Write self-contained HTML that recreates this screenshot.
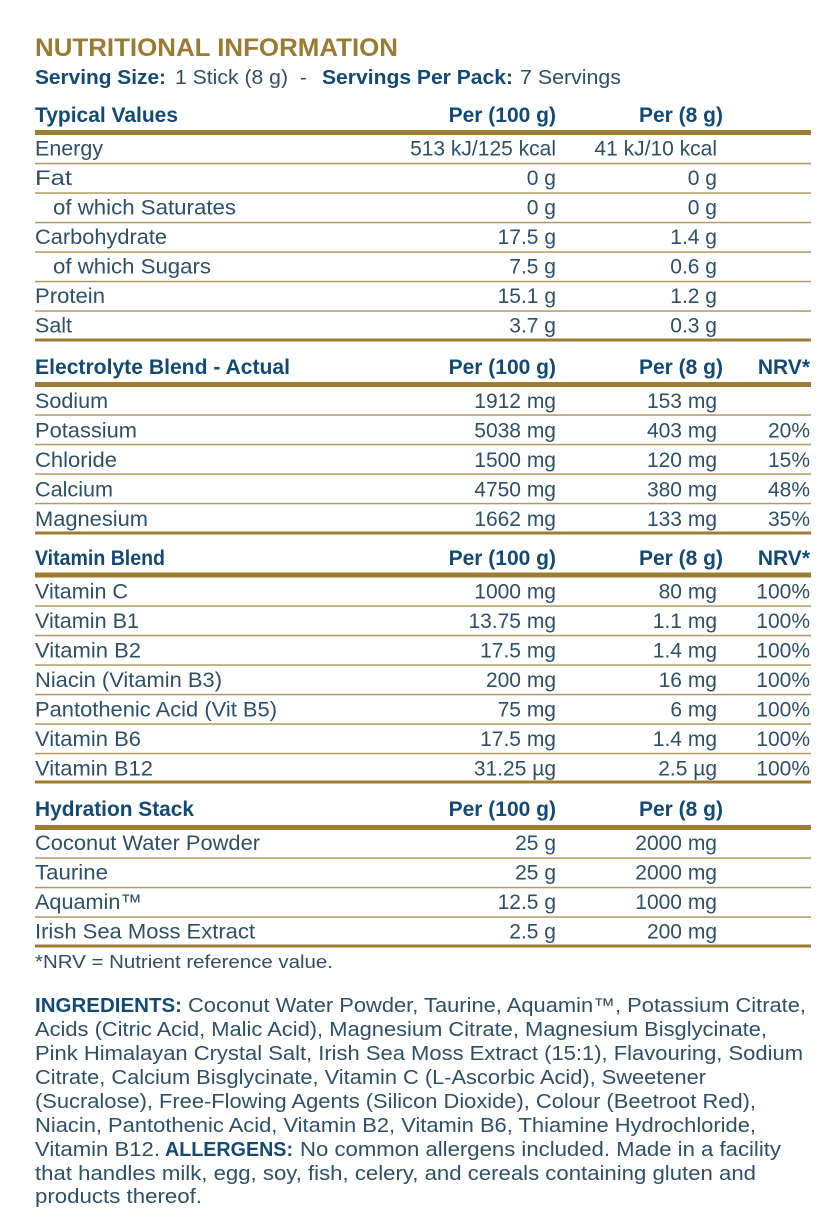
<!DOCTYPE html>
<html><head><meta charset="utf-8"><style>
html,body{margin:0;padding:0;background:#fff;}
svg{display:block;}
text{font-family:"Liberation Sans",sans-serif;}
.t{font-size:21px;fill:#2f4f66;}
.h{font-size:21px;font-weight:bold;fill:#134a74;}
.v{font-size:21px;fill:#2f4f66;text-anchor:end;}
.hv{font-size:21px;font-weight:bold;fill:#134a74;text-anchor:end;}
.i{font-size:20px;fill:#2f4f66;}
.ib{font-size:20px;font-weight:bold;fill:#134a74;}
</style></head><body>
<svg width="839" height="1221" viewBox="0 0 839 1221" xmlns="http://www.w3.org/2000/svg">
<rect width="839" height="1221" fill="#fff"/>
<!-- Title -->
<text x="35" y="56" font-size="25" font-weight="bold" fill="#9b7b32" textLength="363" lengthAdjust="spacingAndGlyphs">NUTRITIONAL INFORMATION</text>
<text x="35" y="84" font-size="20" font-weight="bold" fill="#134a74" textLength="131" lengthAdjust="spacingAndGlyphs">Serving Size:</text>
<text x="175" y="84" font-size="20" fill="#2f4f66" textLength="113" lengthAdjust="spacingAndGlyphs">1 Stick (8 g)</text>
<text x="300" y="84" font-size="20" fill="#2f4f66">-</text>
<text x="322" y="84" font-size="20" font-weight="bold" fill="#134a74" textLength="191" lengthAdjust="spacingAndGlyphs">Servings Per Pack:</text>
<text x="520" y="84" font-size="20" fill="#2f4f66" textLength="101" lengthAdjust="spacingAndGlyphs">7 Servings</text>

<!-- lines -->
<g fill="#9e7c34">
<rect x="35" y="130" width="776" height="5"/>
<rect x="35" y="338.5" width="776" height="3"/>
<rect x="35" y="382" width="776" height="5"/>
<rect x="35" y="531.5" width="776" height="3"/>
<rect x="35" y="572.5" width="776" height="5"/>
<rect x="35" y="780.5" width="776" height="3"/>
<rect x="35" y="825" width="776" height="5"/>
<rect x="35" y="944.5" width="776" height="3"/>
</g>
<g fill="#b09a62">
<rect x="35" y="162.8" width="776" height="1.5"/>
<rect x="35" y="192.3" width="776" height="1.5"/>
<rect x="35" y="221.8" width="776" height="1.5"/>
<rect x="35" y="251.3" width="776" height="1.5"/>
<rect x="35" y="280.8" width="776" height="1.5"/>
<rect x="35" y="310.3" width="776" height="1.5"/>
<rect x="35" y="414.3" width="776" height="1.5"/>
<rect x="35" y="443.8" width="776" height="1.5"/>
<rect x="35" y="473.3" width="776" height="1.5"/>
<rect x="35" y="502.8" width="776" height="1.5"/>
<rect x="35" y="605.3" width="776" height="1.5"/>
<rect x="35" y="634.8" width="776" height="1.5"/>
<rect x="35" y="664.3" width="776" height="1.5"/>
<rect x="35" y="693.8" width="776" height="1.5"/>
<rect x="35" y="723.3" width="776" height="1.5"/>
<rect x="35" y="752.8" width="776" height="1.5"/>
<rect x="35" y="857.3" width="776" height="1.5"/>
<rect x="35" y="886.8" width="776" height="1.5"/>
<rect x="35" y="916.3" width="776" height="1.5"/>
</g>

<!-- Typical values -->
<text class="h" x="35" y="122" textLength="143" lengthAdjust="spacingAndGlyphs">Typical Values</text>
<text class="hv" x="556" y="122">Per (100 g)</text>
<text class="hv" x="723" y="122">Per (8 g)</text>

<text class="t" x="35" y="155.5" textLength="68" lengthAdjust="spacingAndGlyphs">Energy</text>
<text class="v" x="556" y="155.5">513 kJ/125 kcal</text>
<text class="v" x="717" y="155.5">41 kJ/10 kcal</text>

<text class="t" x="35" y="185" textLength="37" lengthAdjust="spacingAndGlyphs">Fat</text>
<text class="v" x="556" y="185">0 g</text>
<text class="v" x="717" y="185">0 g</text>

<text class="t" x="53" y="214.5" textLength="183" lengthAdjust="spacingAndGlyphs">of which Saturates</text>
<text class="v" x="556" y="214.5">0 g</text>
<text class="v" x="717" y="214.5">0 g</text>

<text class="t" x="35" y="244" textLength="132" lengthAdjust="spacingAndGlyphs">Carbohydrate</text>
<text class="v" x="556" y="244">17.5 g</text>
<text class="v" x="717" y="244">1.4 g</text>

<text class="t" x="53" y="273.5" textLength="158" lengthAdjust="spacingAndGlyphs">of which Sugars</text>
<text class="v" x="556" y="273.5">7.5 g</text>
<text class="v" x="717" y="273.5">0.6 g</text>

<text class="t" x="35" y="303" textLength="70" lengthAdjust="spacingAndGlyphs">Protein</text>
<text class="v" x="556" y="303">15.1 g</text>
<text class="v" x="717" y="303">1.2 g</text>

<text class="t" x="35" y="332.5" textLength="37" lengthAdjust="spacingAndGlyphs">Salt</text>
<text class="v" x="556" y="332.5">3.7 g</text>
<text class="v" x="717" y="332.5">0.3 g</text>

<!-- Electrolyte -->
<text class="h" x="35" y="374" textLength="255" lengthAdjust="spacingAndGlyphs">Electrolyte Blend - Actual</text>
<text class="hv" x="556" y="374">Per (100 g)</text>
<text class="hv" x="723" y="374">Per (8 g)</text>
<text class="hv" x="810" y="374">NRV*</text>

<text class="t" x="35" y="408" textLength="73" lengthAdjust="spacingAndGlyphs">Sodium</text>
<text class="v" x="556" y="408">1912 mg</text>
<text class="v" x="717" y="408">153 mg</text>

<text class="t" x="35" y="437.5" textLength="102" lengthAdjust="spacingAndGlyphs">Potassium</text>
<text class="v" x="556" y="437.5">5038 mg</text>
<text class="v" x="717" y="437.5">403 mg</text>
<text class="v" x="810" y="437.5">20%</text>

<text class="t" x="35" y="467" textLength="82" lengthAdjust="spacingAndGlyphs">Chloride</text>
<text class="v" x="556" y="467">1500 mg</text>
<text class="v" x="717" y="467">120 mg</text>
<text class="v" x="810" y="467">15%</text>

<text class="t" x="35" y="496.5" textLength="78" lengthAdjust="spacingAndGlyphs">Calcium</text>
<text class="v" x="556" y="496.5">4750 mg</text>
<text class="v" x="717" y="496.5">380 mg</text>
<text class="v" x="810" y="496.5">48%</text>

<text class="t" x="35" y="526" textLength="113" lengthAdjust="spacingAndGlyphs">Magnesium</text>
<text class="v" x="556" y="526">1662 mg</text>
<text class="v" x="717" y="526">133 mg</text>
<text class="v" x="810" y="526">35%</text>

<!-- Vitamin -->
<text class="h" x="35" y="565" textLength="130" lengthAdjust="spacingAndGlyphs">Vitamin Blend</text>
<text class="hv" x="556" y="565">Per (100 g)</text>
<text class="hv" x="723" y="565">Per (8 g)</text>
<text class="hv" x="810" y="565">NRV*</text>

<text class="t" x="35" y="598.5" textLength="93" lengthAdjust="spacingAndGlyphs">Vitamin C</text>
<text class="v" x="556" y="598.5">1000 mg</text>
<text class="v" x="717" y="598.5">80 mg</text>
<text class="v" x="810" y="598.5">100%</text>

<text class="t" x="35" y="628" textLength="104" lengthAdjust="spacingAndGlyphs">Vitamin B1</text>
<text class="v" x="556" y="628">13.75 mg</text>
<text class="v" x="717" y="628">1.1 mg</text>
<text class="v" x="810" y="628">100%</text>

<text class="t" x="35" y="657.5" textLength="106" lengthAdjust="spacingAndGlyphs">Vitamin B2</text>
<text class="v" x="556" y="657.5">17.5 mg</text>
<text class="v" x="717" y="657.5">1.4 mg</text>
<text class="v" x="810" y="657.5">100%</text>

<text class="t" x="35" y="687" textLength="187" lengthAdjust="spacingAndGlyphs">Niacin (Vitamin B3)</text>
<text class="v" x="556" y="687">200 mg</text>
<text class="v" x="717" y="687">16 mg</text>
<text class="v" x="810" y="687">100%</text>

<text class="t" x="35" y="716.5" textLength="242" lengthAdjust="spacingAndGlyphs">Pantothenic Acid (Vit B5)</text>
<text class="v" x="556" y="716.5">75 mg</text>
<text class="v" x="717" y="716.5">6 mg</text>
<text class="v" x="810" y="716.5">100%</text>

<text class="t" x="35" y="746" textLength="106" lengthAdjust="spacingAndGlyphs">Vitamin B6</text>
<text class="v" x="556" y="746">17.5 mg</text>
<text class="v" x="717" y="746">1.4 mg</text>
<text class="v" x="810" y="746">100%</text>

<text class="t" x="35" y="775.5" textLength="118" lengthAdjust="spacingAndGlyphs">Vitamin B12</text>
<text class="v" x="556" y="775.5">31.25 µg</text>
<text class="v" x="717" y="775.5">2.5 µg</text>
<text class="v" x="810" y="775.5">100%</text>

<!-- Hydration -->
<text class="h" x="35" y="816" textLength="159" lengthAdjust="spacingAndGlyphs">Hydration Stack</text>
<text class="hv" x="556" y="816">Per (100 g)</text>
<text class="hv" x="723" y="816">Per (8 g)</text>

<text class="t" x="35" y="850" textLength="225" lengthAdjust="spacingAndGlyphs">Coconut Water Powder</text>
<text class="v" x="556" y="850">25 g</text>
<text class="v" x="717" y="850">2000 mg</text>

<text class="t" x="35" y="879.5" textLength="73" lengthAdjust="spacingAndGlyphs">Taurine</text>
<text class="v" x="556" y="879.5">25 g</text>
<text class="v" x="717" y="879.5">2000 mg</text>

<text class="t" x="35" y="909" textLength="107" lengthAdjust="spacingAndGlyphs">Aquamin™</text>
<text class="v" x="556" y="909">12.5 g</text>
<text class="v" x="717" y="909">1000 mg</text>

<text class="t" x="35" y="938.5" textLength="220" lengthAdjust="spacingAndGlyphs">Irish Sea Moss Extract</text>
<text class="v" x="556" y="938.5">2.5 g</text>
<text class="v" x="717" y="938.5">200 mg</text>

<text x="35" y="968" font-size="18" fill="#2f4f66" textLength="298" lengthAdjust="spacingAndGlyphs">*NRV = Nutrient reference value.</text>

<!-- Ingredients -->
<text class="ib" x="35" y="1012" textLength="147" lengthAdjust="spacingAndGlyphs">INGREDIENTS:</text>
<text class="i" x="188" y="1012" textLength="618" lengthAdjust="spacingAndGlyphs">Coconut Water Powder, Taurine, Aquamin™, Potassium Citrate,</text>
<text class="i" x="35" y="1036" textLength="732" lengthAdjust="spacingAndGlyphs">Acids (Citric Acid, Malic Acid), Magnesium Citrate, Magnesium Bisglycinate,</text>
<text class="i" x="35" y="1060" textLength="768" lengthAdjust="spacingAndGlyphs">Pink Himalayan Crystal Salt, Irish Sea Moss Extract (15:1), Flavouring, Sodium</text>
<text class="i" x="35" y="1084" textLength="671" lengthAdjust="spacingAndGlyphs">Citrate, Calcium Bisglycinate, Vitamin C (L-Ascorbic Acid), Sweetener</text>
<text class="i" x="35" y="1108" textLength="721" lengthAdjust="spacingAndGlyphs">(Sucralose), Free-Flowing Agents (Silicon Dioxide), Colour (Beetroot Red),</text>
<text class="i" x="35" y="1132" textLength="721" lengthAdjust="spacingAndGlyphs">Niacin, Pantothenic Acid, Vitamin B2, Vitamin B6, Thiamine Hydrochloride,</text>
<text class="i" x="35" y="1156" textLength="125" lengthAdjust="spacingAndGlyphs">Vitamin B12.</text>
<text class="ib" x="165" y="1156" textLength="128" lengthAdjust="spacingAndGlyphs">ALLERGENS:</text>
<text class="i" x="300" y="1156" textLength="481" lengthAdjust="spacingAndGlyphs">No common allergens included. Made in a facility</text>
<text class="i" x="35" y="1180" textLength="721" lengthAdjust="spacingAndGlyphs">that handles milk, egg, soy, fish, celery, and cereals containing gluten and</text>
<text class="i" x="35" y="1203" textLength="167" lengthAdjust="spacingAndGlyphs">products thereof.</text>
</svg>
</body></html>
